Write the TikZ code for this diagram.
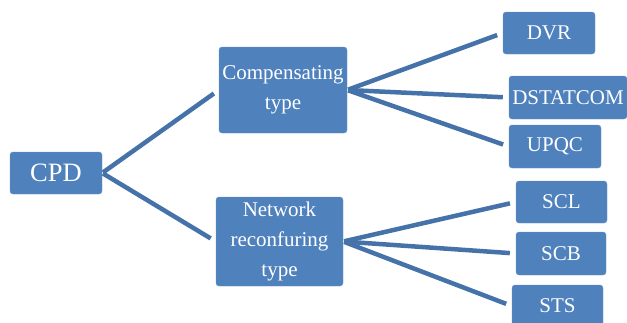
\documentclass[tikz,border=0pt]{standalone}
\usepackage{fontspec}
\setmainfont{Liberation Serif}
\usepackage{xcolor}
\definecolor{boxblue}{HTML}{4F81BD}
\definecolor{linkblue}{HTML}{4672AA}

\begin{document}
\begin{tikzpicture}[x=1pt,y=-1pt,
  box/.style={fill=boxblue,draw=boxblue!85!white,rounded corners=3pt,text=white,
    align=center,inner sep=0pt,font=\fontsize{21}{30}\selectfont},
  link/.style={draw=linkblue,line width=4.5pt,shorten <=1pt,shorten >=6pt}]
\useasboundingbox (0,0) rectangle (627,322);

% Root and the two types
\node[box,minimum width=92pt,minimum height=42pt,font=\fontsize{26.5}{30}\selectfont] (cpd) at (56,173) {CPD};
\node[box,minimum width=128pt,minimum height=86pt] (comp) at (283,90) {Compensating\\type};
\node[box,minimum width=127pt,minimum height=89pt] (net) at (279.5,241.5) {Network\\reconfuring\\type};

% Devices
\node[box,minimum width=92pt,minimum height=42pt] (dvr) at (549,33) {DVR};
\node[box,minimum width=118pt,minimum height=43pt] (dstatcom) at (568,97.5) {DSTATCOM};
\node[box,minimum width=92pt,minimum height=43pt] (upqc) at (555,146.5) {UPQC};
\node[box,minimum width=91pt,minimum height=42pt] (scl) at (561.5,202) {SCL};
\node[box,minimum width=90pt,minimum height=43pt] (scb) at (561,253.5) {SCB};
\node[box,minimum width=91pt,minimum height=42pt] (sts) at (557.5,306) {STS};

% Links
\draw[link] (cpd.east) -- (comp.west);
\draw[link] (cpd.east) -- (net.west);
\foreach \d in {dvr,dstatcom,upqc}
  \draw[link] (comp.east) -- (\d.west);
\foreach \d in {scl,scb,sts}
  \draw[link] (net.east) -- (\d.west);
\end{tikzpicture}
\end{document}
